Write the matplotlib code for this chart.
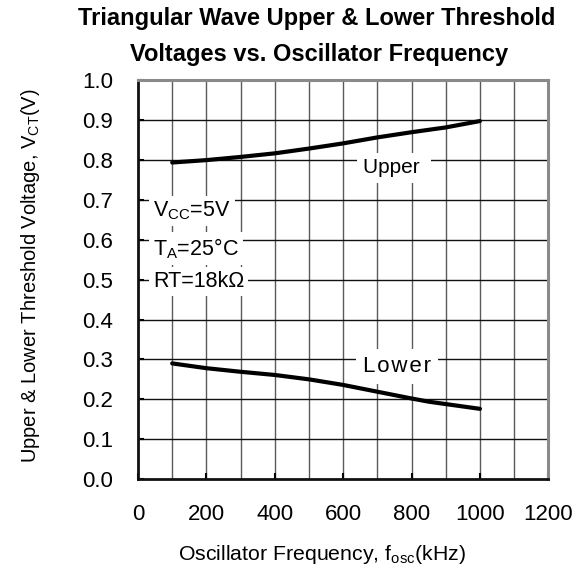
import matplotlib
matplotlib.use("Agg")
import matplotlib.pyplot as plt
from matplotlib.ticker import MultipleLocator

plt.rcParams['font.family'] = ['Liberation Sans', 'DejaVu Sans']
plt.rcParams['mathtext.fontset'] = 'custom'
plt.rcParams['mathtext.rm'] = 'Liberation Sans'
plt.rcParams['mathtext.it'] = 'Liberation Sans:italic'

# Data
freq_upper = [100, 200, 300, 400, 500, 600, 700, 800, 900, 1000]
v_upper = [0.794, 0.800, 0.808, 0.817, 0.829, 0.842, 0.857, 0.870, 0.882, 0.898]
freq_lower = [100, 200, 300, 400, 500, 600, 700, 800, 850, 900, 1000]
v_lower = [0.290, 0.278, 0.269, 0.261, 0.250, 0.236, 0.219, 0.202, 0.194, 0.188, 0.176]

x_ticks = [0, 200, 400, 600, 800, 1000, 1200]
y_ticks = [0.0, 0.1, 0.2, 0.3, 0.4, 0.5, 0.6, 0.7, 0.8, 0.9, 1.0]

title_lines = ["Triangular Wave Upper & Lower Threshold",
               "Voltages vs. Oscillator Frequency"]
x_label = r"Oscillator Frequency, f$_{\mathrm{osc}}$(kHz)"
y_label = r"Upper & Lower Threshold Voltage, V$_{\mathrm{CT}}$(V)"
cond_lines = [r"V$_{\mathrm{CC}}$=5V", r"T$_{\mathrm{A}}$=25°C", "RT=18kΩ"]

W, H = 583, 571
fig = plt.figure(figsize=(W / 100, H / 100), dpi=100)
ax = fig.add_axes([138 / W, 1 - 479 / H, (548.3 - 138) / W, (479 - 80.4) / H])

ax.set_xlim(0, 1200)
ax.set_ylim(0, 1.0)
ax.set_xticks(x_ticks)
ax.set_xticklabels([str(t) for t in x_ticks])
ax.set_yticks(y_ticks)
ax.set_yticklabels([f"{t:.1f}" for t in y_ticks])
ax.xaxis.set_minor_locator(MultipleLocator(100))

# grid
ax.grid(False)
for xv in range(100, 1200, 100):
    ax.axvline(xv, color='#5a5a5a', lw=1.0, zorder=1)
for yv in y_ticks[1:-1]:
    ax.axhline(yv, color='#111111', lw=1.0, zorder=1)

ax.tick_params(axis='both', which='major', direction='in', length=4, width=1.5,
               labelsize=16, colors='black', pad=18)
ax.tick_params(axis='x', which='minor', length=0)

for side in ['left', 'bottom']:
    ax.spines[side].set_color('#111111')
    ax.spines[side].set_linewidth(2.0)
for side in ['top', 'right']:
    ax.spines[side].set_color('#8a8a8a')
    ax.spines[side].set_linewidth(2.2)

ax.plot(freq_upper, v_upper, color='black', lw=3.0, solid_capstyle='round', zorder=3)
ax.plot(freq_lower, v_lower, color='black', lw=3.0, solid_capstyle='round', zorder=3)

ax.text(658, 0.767, "Upper ", fontsize=15, ha='left', va='baseline',
        bbox=dict(facecolor='white', edgecolor='none', pad=4), zorder=4)
ax.text(658, 0.268, "L\u200ao\u200aw\u200ae\u200ar", fontsize=16, ha='left', va='baseline',
        bbox=dict(facecolor='white', edgecolor='none', pad=5), zorder=4)

cond_y = [0.658, 0.562, 0.482]
box = dict(facecolor='white', edgecolor='none', pad=3)
for s, yv in zip(cond_lines, cond_y):
    ax.text(44, yv, s, fontsize=15.5, ha='left', va='baseline', bbox=box, zorder=4)

fig.text(321.5 / W, 1 - 555 / H, x_label, fontsize=15.3, ha='center', va='center')
fig.text(31 / W, 1 - 276 / H, y_label, fontsize=14.5, ha='center', va='center', rotation=90)

fig.text(316.5 / W, 1 - 18 / H, title_lines[0], fontsize=17, fontweight='bold', ha='center', va='center')
fig.text(319.5 / W, 1 - 55 / H, title_lines[1], fontsize=17, fontweight='bold', ha='center', va='center')

fig.savefig("out.png", dpi=100)
